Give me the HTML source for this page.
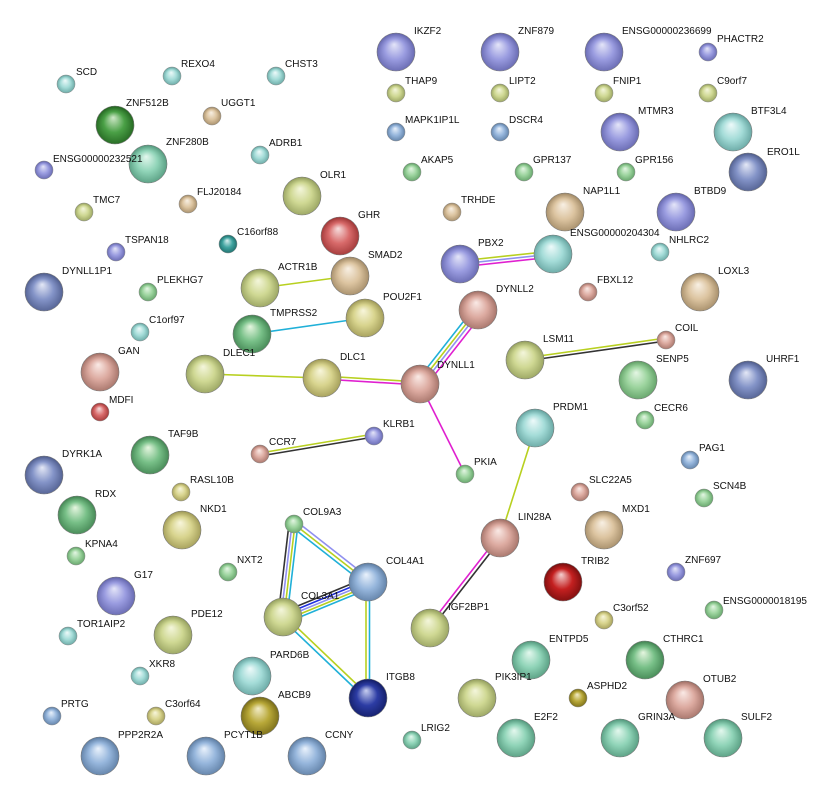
<!DOCTYPE html>
<html><head><meta charset="utf-8"><style>
html,body{margin:0;padding:0;background:#fff;}
svg{display:block;}
text{font-family:"Liberation Sans",Arial,sans-serif;font-size:10px;fill:#111;}
</style></head><body>
<svg width="818" height="801" viewBox="0 0 818 801" xmlns="http://www.w3.org/2000/svg">
<defs>
<radialGradient id="pu" cx="50%" cy="55%" r="55%" fx="45%" fy="30%"><stop offset="0" stop-color="#e4e5f8"/><stop offset="0.5" stop-color="#9a9ce0"/><stop offset="1" stop-color="#5e60a8"/></radialGradient>
<radialGradient id="yg" cx="50%" cy="55%" r="55%" fx="45%" fy="30%"><stop offset="0" stop-color="#f4f6dc"/><stop offset="0.5" stop-color="#cfd893"/><stop offset="1" stop-color="#8f9a58"/></radialGradient>
<radialGradient id="gr" cx="50%" cy="55%" r="55%" fx="45%" fy="30%"><stop offset="0" stop-color="#e4f6e4"/><stop offset="0.5" stop-color="#9cd49e"/><stop offset="1" stop-color="#5a9a60"/></radialGradient>
<radialGradient id="dg" cx="50%" cy="55%" r="55%" fx="45%" fy="30%"><stop offset="0" stop-color="#cfe8c8"/><stop offset="0.5" stop-color="#4aa046"/><stop offset="1" stop-color="#1f5e1c"/></radialGradient>
<radialGradient id="cy" cx="50%" cy="55%" r="55%" fx="45%" fy="30%"><stop offset="0" stop-color="#eefafa"/><stop offset="0.5" stop-color="#a4dcd8"/><stop offset="1" stop-color="#5e9e9a"/></radialGradient>
<radialGradient id="tn" cx="50%" cy="55%" r="55%" fx="45%" fy="30%"><stop offset="0" stop-color="#f8f0e4"/><stop offset="0.5" stop-color="#dcc4a0"/><stop offset="1" stop-color="#9c8460"/></radialGradient>
<radialGradient id="pk" cx="50%" cy="55%" r="55%" fx="45%" fy="30%"><stop offset="0" stop-color="#faeae6"/><stop offset="0.5" stop-color="#dcaaa0"/><stop offset="1" stop-color="#9c6a60"/></radialGradient>
<radialGradient id="rd" cx="50%" cy="55%" r="55%" fx="45%" fy="30%"><stop offset="0" stop-color="#f6dede"/><stop offset="0.5" stop-color="#d86a6a"/><stop offset="1" stop-color="#983030"/></radialGradient>
<radialGradient id="bl" cx="50%" cy="55%" r="55%" fx="45%" fy="30%"><stop offset="0" stop-color="#eaf2fc"/><stop offset="0.5" stop-color="#96b6dc"/><stop offset="1" stop-color="#58789e"/></radialGradient>
<radialGradient id="ub" cx="50%" cy="55%" r="55%" fx="45%" fy="30%"><stop offset="0" stop-color="#e4e8f6"/><stop offset="0.5" stop-color="#8494c8"/><stop offset="1" stop-color="#4a5888"/></radialGradient>
<radialGradient id="nv" cx="50%" cy="55%" r="55%" fx="45%" fy="30%"><stop offset="0" stop-color="#c8cff0"/><stop offset="0.5" stop-color="#2c3ca4"/><stop offset="1" stop-color="#101a60"/></radialGradient>
<radialGradient id="tl" cx="50%" cy="55%" r="55%" fx="45%" fy="30%"><stop offset="0" stop-color="#d8f0f0"/><stop offset="0.5" stop-color="#40a4a0"/><stop offset="1" stop-color="#1a6664"/></radialGradient>
<radialGradient id="tr" cx="50%" cy="55%" r="55%" fx="45%" fy="30%"><stop offset="0" stop-color="#f4d0d0"/><stop offset="0.5" stop-color="#c42020"/><stop offset="1" stop-color="#700c0c"/></radialGradient>
<radialGradient id="ol" cx="50%" cy="55%" r="55%" fx="45%" fy="30%"><stop offset="0" stop-color="#f2ecc8"/><stop offset="0.5" stop-color="#b8a838"/><stop offset="1" stop-color="#706414"/></radialGradient>
<radialGradient id="tg" cx="50%" cy="55%" r="55%" fx="45%" fy="30%"><stop offset="0" stop-color="#e4f8ee"/><stop offset="0.5" stop-color="#90d4b8"/><stop offset="1" stop-color="#4e9478"/></radialGradient>
<radialGradient id="mg" cx="50%" cy="55%" r="55%" fx="45%" fy="30%"><stop offset="0" stop-color="#e6f6e0"/><stop offset="0.5" stop-color="#78c088"/><stop offset="1" stop-color="#3c7e4c"/></radialGradient>
<radialGradient id="ye" cx="50%" cy="55%" r="55%" fx="45%" fy="30%"><stop offset="0" stop-color="#f8f6dc"/><stop offset="0.5" stop-color="#d8d48e"/><stop offset="1" stop-color="#9a9450"/></radialGradient>
</defs>

<!-- edges -->
<g fill="none" stroke-width="1.6">
<line x1="260" y1="288" x2="350" y2="276" stroke="#b8d020"/>
<line x1="252" y1="334" x2="365" y2="318" stroke="#20b0d8"/>
<line x1="205" y1="374" x2="322" y2="378" stroke="#b8d020"/>
<line x1="322" y1="376" x2="420" y2="382" stroke="#b8d020"/>
<line x1="322" y1="379" x2="420" y2="385" stroke="#e020d0"/>
<line x1="416" y1="382" x2="474" y2="308" stroke="#20b0d8"/>
<line x1="419" y1="384" x2="477" y2="310" stroke="#b8d020"/>
<line x1="422" y1="385" x2="480" y2="311" stroke="#9090f0"/>
<line x1="425" y1="387" x2="483" y2="313" stroke="#e020d0"/>
<line x1="420" y1="384" x2="465" y2="474" stroke="#e020d0"/>
<line x1="260" y1="453" x2="374" y2="434" stroke="#b8d020"/>
<line x1="260" y1="456" x2="374" y2="437" stroke="#333"/>
<line x1="460" y1="261" x2="553" y2="251" stroke="#b8d020"/>
<line x1="460" y1="264" x2="553" y2="254" stroke="#9090f0"/>
<line x1="460" y1="267" x2="553" y2="257" stroke="#e020d0"/>
<line x1="525" y1="358" x2="666" y2="338" stroke="#b8d020"/>
<line x1="525" y1="361" x2="666" y2="341" stroke="#333"/>
<line x1="535" y1="428" x2="500" y2="538" stroke="#b8d020"/>
<line x1="498" y1="537" x2="428" y2="627" stroke="#e020d0"/>
<line x1="501" y1="539" x2="431" y2="629" stroke="#333"/>
<!-- collagen cluster -->
<line x1="289" y1="524" x2="278" y2="617" stroke="#333"/>
<line x1="292" y1="524" x2="281" y2="617" stroke="#9090f0"/>
<line x1="295" y1="524" x2="284" y2="617" stroke="#b8d020"/>
<line x1="298" y1="524" x2="287" y2="617" stroke="#20b0d8"/>
<line x1="296" y1="521" x2="370" y2="579" stroke="#9090f0"/>
<line x1="294" y1="524" x2="368" y2="582" stroke="#b8d020"/>
<line x1="292" y1="527" x2="366" y2="585" stroke="#20b0d8"/>
<line x1="283" y1="612" x2="368" y2="577" stroke="#333"/>
<line x1="283" y1="615" x2="368" y2="580" stroke="#2030e0"/>
<line x1="283" y1="618" x2="368" y2="583" stroke="#9090f0"/>
<line x1="283" y1="621" x2="368" y2="586" stroke="#b8d020"/>
<line x1="283" y1="624" x2="368" y2="589" stroke="#20b0d8"/>
<line x1="285" y1="616" x2="370" y2="697" stroke="#b8d020"/>
<line x1="282" y1="619" x2="367" y2="700" stroke="#20b0d8"/>
<line x1="366" y1="582" x2="366" y2="698" stroke="#b8d020"/>
<line x1="369.5" y1="582" x2="369.5" y2="698" stroke="#20b0d8"/>
</g>

<!-- big nodes -->
<g stroke="#777" stroke-width="0.6">
<circle cx="396" cy="52" r="19" fill="url(#pu)"/>
<circle cx="500" cy="52" r="19" fill="url(#pu)"/>
<circle cx="604" cy="52" r="19" fill="url(#pu)"/>
<circle cx="115" cy="125" r="19" fill="url(#dg)"/>
<circle cx="148" cy="164" r="19" fill="url(#tg)"/>
<circle cx="620" cy="132" r="19" fill="url(#pu)"/>
<circle cx="733" cy="132" r="19" fill="url(#cy)"/>
<circle cx="748" cy="172" r="19" fill="url(#ub)"/>
<circle cx="302" cy="196" r="19" fill="url(#yg)"/>
<circle cx="340" cy="236" r="19" fill="url(#rd)"/>
<circle cx="565" cy="212" r="19" fill="url(#tn)"/>
<circle cx="676" cy="212" r="19" fill="url(#pu)"/>
<circle cx="460" cy="264" r="19" fill="url(#pu)"/>
<circle cx="553" cy="254" r="19" fill="url(#cy)"/>
<circle cx="44" cy="292" r="19" fill="url(#ub)"/>
<circle cx="260" cy="288" r="19" fill="url(#yg)"/>
<circle cx="350" cy="276" r="19" fill="url(#tn)"/>
<circle cx="700" cy="292" r="19" fill="url(#tn)"/>
<circle cx="365" cy="318" r="19" fill="url(#ye)"/>
<circle cx="478" cy="310" r="19" fill="url(#pk)"/>
<circle cx="252" cy="334" r="19" fill="url(#mg)"/>
<circle cx="100" cy="372" r="19" fill="url(#pk)"/>
<circle cx="205" cy="374" r="19" fill="url(#yg)"/>
<circle cx="322" cy="378" r="19" fill="url(#ye)"/>
<circle cx="420" cy="384" r="19" fill="url(#pk)"/>
<circle cx="525" cy="360" r="19" fill="url(#yg)"/>
<circle cx="638" cy="380" r="19" fill="url(#gr)"/>
<circle cx="748" cy="380" r="19" fill="url(#ub)"/>
<circle cx="535" cy="428" r="19" fill="url(#cy)"/>
<circle cx="150" cy="455" r="19" fill="url(#mg)"/>
<circle cx="44" cy="475" r="19" fill="url(#ub)"/>
<circle cx="77" cy="515" r="19" fill="url(#mg)"/>
<circle cx="182" cy="530" r="19" fill="url(#ye)"/>
<circle cx="604" cy="530" r="19" fill="url(#tn)"/>
<circle cx="500" cy="538" r="19" fill="url(#pk)"/>
<circle cx="563" cy="582" r="19" fill="url(#tr)"/>
<circle cx="368" cy="582" r="19" fill="url(#bl)"/>
<circle cx="116" cy="596" r="19" fill="url(#pu)"/>
<circle cx="283" cy="617" r="19" fill="url(#yg)"/>
<circle cx="173" cy="635" r="19" fill="url(#yg)"/>
<circle cx="430" cy="628" r="19" fill="url(#yg)"/>
<circle cx="531" cy="660" r="19" fill="url(#tg)"/>
<circle cx="645" cy="660" r="19" fill="url(#mg)"/>
<circle cx="252" cy="676" r="19" fill="url(#cy)"/>
<circle cx="477" cy="698" r="19" fill="url(#yg)"/>
<circle cx="685" cy="700" r="19" fill="url(#pk)"/>
<circle cx="368" cy="698" r="19" fill="url(#nv)"/>
<circle cx="260" cy="716" r="19" fill="url(#ol)"/>
<circle cx="516" cy="738" r="19" fill="url(#tg)"/>
<circle cx="620" cy="738" r="19" fill="url(#tg)"/>
<circle cx="723" cy="738" r="19" fill="url(#tg)"/>
<circle cx="100" cy="756" r="19" fill="url(#bl)"/>
<circle cx="206" cy="756" r="19" fill="url(#bl)"/>
<circle cx="307" cy="756" r="19" fill="url(#bl)"/>
</g>
<!-- small nodes -->
<g stroke="#888" stroke-width="0.5">
<circle cx="66" cy="84" r="9" fill="url(#cy)"/>
<circle cx="172" cy="76" r="9" fill="url(#cy)"/>
<circle cx="276" cy="76" r="9" fill="url(#cy)"/>
<circle cx="708" cy="52" r="9" fill="url(#pu)"/>
<circle cx="396" cy="93" r="9" fill="url(#yg)"/>
<circle cx="500" cy="93" r="9" fill="url(#yg)"/>
<circle cx="604" cy="93" r="9" fill="url(#yg)"/>
<circle cx="708" cy="93" r="9" fill="url(#yg)"/>
<circle cx="212" cy="116" r="9" fill="url(#tn)"/>
<circle cx="396" cy="132" r="9" fill="url(#bl)"/>
<circle cx="500" cy="132" r="9" fill="url(#bl)"/>
<circle cx="260" cy="155" r="9" fill="url(#cy)"/>
<circle cx="44" cy="170" r="9" fill="url(#pu)"/>
<circle cx="412" cy="172" r="9" fill="url(#gr)"/>
<circle cx="524" cy="172" r="9" fill="url(#gr)"/>
<circle cx="626" cy="172" r="9" fill="url(#gr)"/>
<circle cx="188" cy="204" r="9" fill="url(#tn)"/>
<circle cx="84" cy="212" r="9" fill="url(#yg)"/>
<circle cx="452" cy="212" r="9" fill="url(#tn)"/>
<circle cx="228" cy="244" r="9" fill="url(#tl)"/>
<circle cx="116" cy="252" r="9" fill="url(#pu)"/>
<circle cx="660" cy="252" r="9" fill="url(#cy)"/>
<circle cx="148" cy="292" r="9" fill="url(#gr)"/>
<circle cx="588" cy="292" r="9" fill="url(#pk)"/>
<circle cx="140" cy="332" r="9" fill="url(#cy)"/>
<circle cx="666" cy="340" r="9" fill="url(#pk)"/>
<circle cx="100" cy="412" r="9" fill="url(#rd)"/>
<circle cx="645" cy="420" r="9" fill="url(#gr)"/>
<circle cx="374" cy="436" r="9" fill="url(#pu)"/>
<circle cx="260" cy="454" r="9" fill="url(#pk)"/>
<circle cx="690" cy="460" r="9" fill="url(#bl)"/>
<circle cx="465" cy="474" r="9" fill="url(#gr)"/>
<circle cx="181" cy="492" r="9" fill="url(#ye)"/>
<circle cx="580" cy="492" r="9" fill="url(#pk)"/>
<circle cx="704" cy="498" r="9" fill="url(#gr)"/>
<circle cx="294" cy="524" r="9" fill="url(#gr)"/>
<circle cx="76" cy="556" r="9" fill="url(#gr)"/>
<circle cx="228" cy="572" r="9" fill="url(#gr)"/>
<circle cx="676" cy="572" r="9" fill="url(#pu)"/>
<circle cx="604" cy="620" r="9" fill="url(#ye)"/>
<circle cx="714" cy="610" r="9" fill="url(#gr)"/>
<circle cx="68" cy="636" r="9" fill="url(#cy)"/>
<circle cx="140" cy="676" r="9" fill="url(#cy)"/>
<circle cx="578" cy="698" r="9" fill="url(#ol)"/>
<circle cx="52" cy="716" r="9" fill="url(#bl)"/>
<circle cx="156" cy="716" r="9" fill="url(#ye)"/>
<circle cx="412" cy="740" r="9" fill="url(#tg)"/>
</g>

<!-- labels -->
<g>
<text x="414" y="34">IKZF2</text>
<text x="518" y="34">ZNF879</text>
<text x="622" y="34">ENSG00000236699</text>
<text x="717" y="42">PHACTR2</text>
<text x="76" y="75">SCD</text>
<text x="181" y="67">REXO4</text>
<text x="285" y="67">CHST3</text>
<text x="405" y="84">THAP9</text>
<text x="509" y="84">LIPT2</text>
<text x="613" y="84">FNIP1</text>
<text x="717" y="84">C9orf7</text>
<text x="126" y="106">ZNF512B</text>
<text x="221" y="106">UGGT1</text>
<text x="405" y="123">MAPK1IP1L</text>
<text x="509" y="123">DSCR4</text>
<text x="638" y="114">MTMR3</text>
<text x="751" y="114">BTF3L4</text>
<text x="767" y="155">ERO1L</text>
<text x="166" y="145">ZNF280B</text>
<text x="269" y="146">ADRB1</text>
<text x="53" y="162">ENSG00000232521</text>
<text x="421" y="163">AKAP5</text>
<text x="533" y="163">GPR137</text>
<text x="635" y="163">GPR156</text>
<text x="320" y="178">OLR1</text>
<text x="93" y="203">TMC7</text>
<text x="197" y="195">FLJ20184</text>
<text x="461" y="203">TRHDE</text>
<text x="583" y="194">NAP1L1</text>
<text x="694" y="194">BTBD9</text>
<text x="358" y="218">GHR</text>
<text x="237" y="235">C16orf88</text>
<text x="125" y="243">TSPAN18</text>
<text x="570" y="236">ENSG00000204304</text>
<text x="669" y="243">NHLRC2</text>
<text x="478" y="246">PBX2</text>
<text x="368" y="258">SMAD2</text>
<text x="278" y="270">ACTR1B</text>
<text x="62" y="274">DYNLL1P1</text>
<text x="157" y="283">PLEKHG7</text>
<text x="718" y="274">LOXL3</text>
<text x="597" y="283">FBXL12</text>
<text x="496" y="292">DYNLL2</text>
<text x="383" y="300">POU2F1</text>
<text x="270" y="316">TMPRSS2</text>
<text x="149" y="323">C1orf97</text>
<text x="675" y="331">COIL</text>
<text x="543" y="342">LSM11</text>
<text x="118" y="354">GAN</text>
<text x="223" y="356">DLEC1</text>
<text x="340" y="360">DLC1</text>
<text x="437" y="368">DYNLL1</text>
<text x="656" y="362">SENP5</text>
<text x="766" y="362">UHRF1</text>
<text x="109" y="403">MDFI</text>
<text x="654" y="411">CECR6</text>
<text x="553" y="410">PRDM1</text>
<text x="383" y="427">KLRB1</text>
<text x="168" y="437">TAF9B</text>
<text x="269" y="445">CCR7</text>
<text x="62" y="457">DYRK1A</text>
<text x="699" y="451">PAG1</text>
<text x="474" y="465">PKIA</text>
<text x="190" y="483">RASL10B</text>
<text x="589" y="483">SLC22A5</text>
<text x="713" y="489">SCN4B</text>
<text x="95" y="497">RDX</text>
<text x="303" y="515">COL9A3</text>
<text x="200" y="512">NKD1</text>
<text x="622" y="512">MXD1</text>
<text x="518" y="520">LIN28A</text>
<text x="85" y="547">KPNA4</text>
<text x="237" y="563">NXT2</text>
<text x="386" y="564">COL4A1</text>
<text x="581" y="564">TRIB2</text>
<text x="685" y="563">ZNF697</text>
<text x="134" y="578">G17</text>
<text x="301" y="599">COL3A1</text>
<text x="723" y="604">ENSG0000018195</text>
<text x="613" y="611">C3orf52</text>
<text x="448" y="610">IGF2BP1</text>
<text x="191" y="617">PDE12</text>
<text x="77" y="627">TOR1AIP2</text>
<text x="549" y="642">ENTPD5</text>
<text x="663" y="642">CTHRC1</text>
<text x="270" y="658">PARD6B</text>
<text x="149" y="667">XKR8</text>
<text x="495" y="680">PIK3IP1</text>
<text x="587" y="689">ASPHD2</text>
<text x="703" y="682">OTUB2</text>
<text x="386" y="680">ITGB8</text>
<text x="278" y="698">ABCB9</text>
<text x="61" y="707">PRTG</text>
<text x="165" y="707">C3orf64</text>
<text x="534" y="720">E2F2</text>
<text x="638" y="720">GRIN3A</text>
<text x="741" y="720">SULF2</text>
<text x="421" y="731">LRIG2</text>
<text x="118" y="738">PPP2R2A</text>
<text x="224" y="738">PCYT1B</text>
<text x="325" y="738">CCNY</text>
</g>
</svg>
</body></html>
